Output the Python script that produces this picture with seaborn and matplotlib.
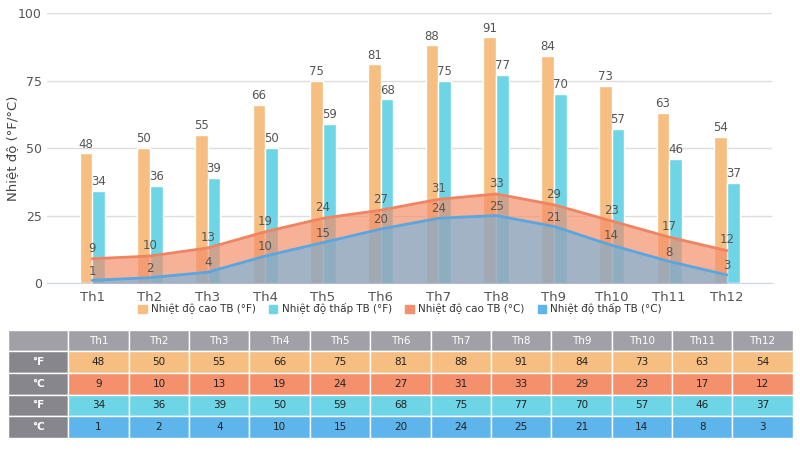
import numpy as np
import pandas as pd
import matplotlib.pyplot as plt
import seaborn as sns
from matplotlib.patches import Patch

months = ['Th1', 'Th2', 'Th3', 'Th4', 'Th5', 'Th6', 'Th7', 'Th8', 'Th9', 'Th10', 'Th11', 'Th12']
high_f = [48, 50, 55, 66, 75, 81, 88, 91, 84, 73, 63, 54]
low_f = [34, 36, 39, 50, 59, 68, 75, 77, 70, 57, 46, 37]
high_c = [9, 10, 13, 19, 24, 27, 31, 33, 29, 23, 17, 12]
low_c = [1, 2, 4, 10, 15, 20, 24, 25, 21, 14, 8, 3]

names = ['Nhiệt độ cao TB (°F)', 'Nhiệt độ thấp TB (°F)', 'Nhiệt độ cao TB (°C)', 'Nhiệt độ thấp TB (°C)']
colors = ['#F7BE81', '#6DD5E5', '#F4906B', '#5DB5EB']

sns.set_style('white')
plt.rcParams['font.family'] = ['DejaVu Sans']

fig = plt.figure(figsize=(8, 4.5), dpi=100)
ax = fig.add_axes([0.059, 0.371, 0.906, 0.6])

# bars for Fahrenheit
bars = pd.DataFrame({
    'month': months * 2,
    'val': high_f + low_f,
    'series': [names[0]] * 12 + [names[1]] * 12,
})
sns.barplot(data=bars, x='month', y='val', hue='series', palette=colors[:2],
            width=0.44, saturation=1, legend=False, ax=ax, zorder=2)
for cont in ax.containers:
    ax.bar_label(cont, padding=2, color='#555555', fontsize=8.5)

# areas for Celsius
x = np.arange(len(months))
ax.fill_between(x, high_c, color=colors[2], alpha=0.7, lw=0, zorder=3)
ax.plot(x, high_c, color='#F08462', lw=2, zorder=4)
ax.fill_between(x, low_c, color=colors[3], alpha=0.55, lw=0, zorder=3)
ax.plot(x, low_c, color='#5AA6E0', lw=2, zorder=4)
for xi, v in zip(x, high_c):
    ax.annotate(str(v), (xi, v), xytext=(0, 3), textcoords='offset points',
                ha='center', va='bottom', color='#555555', fontsize=8.5, zorder=5)
for xi, v in zip(x, low_c):
    ax.annotate(str(v), (xi, v), xytext=(0, 2), textcoords='offset points',
                ha='center', va='bottom', color='#555555', fontsize=8.5, zorder=5)

ax.set_xlim(-0.78, 11.78)
ax.set_ylim(0, 100)
ax.set_yticks([0, 25, 50, 75, 100])
ax.yaxis.grid(True, color='#DDDDDD', lw=1)
ax.set_axisbelow(True)
ax.set_xlabel('')
ax.set_ylabel('Nhiệt độ (°F/°C)', fontsize=9.5, color='#444444')
ax.yaxis.set_label_coords(-0.039, 0.5)
for s in ['left', 'right', 'top']:
    ax.spines[s].set_visible(False)
ax.spines['bottom'].set_color('#CCD6EB')
ax.tick_params(axis='both', colors='#555555', labelsize=9.5, length=0)
ax.tick_params(axis='x', length=4, pad=2, color='#CCD6EB')
ax.tick_params(axis='y', pad=4, labelsize=9)

handles = [Patch(color=c) for c in colors]
fig.legend(handles, names, loc='center', bbox_to_anchor=(0.5, 0.314), ncol=4,
           frameon=False, fontsize=7.5, handlelength=0.8, handleheight=0.8,
           columnspacing=1.3, handletextpad=0.4, labelcolor='#333333',
           borderpad=0, borderaxespad=0)

# table below
tax = fig.add_axes([0.01, 0.027, 0.981, 0.24])
tax.axis('off')
row_labels = ['°F', '°C', '°F', '°C']
cells = [[''] + months]
for lab, vals in zip(row_labels, [high_f, high_c, low_f, low_c]):
    cells.append([lab] + [str(v) for v in vals])
tbl = tax.table(cellText=cells, bbox=[0, 0, 1, 1], cellLoc='center')
tbl.auto_set_font_size(False)
row_colors = ['#F7BE81', '#F4906B', '#6DD5E5', '#5DB5EB']
for (r, c), cell in tbl.get_celld().items():
    cell.set_edgecolor('white')
    cell.set_linewidth(1)
    cell.set_fontsize(7.5)
    if r == 0:
        cell.set_facecolor('#A0A0A6')
        cell.get_text().set_color('white')
    elif c == 0:
        cell.set_facecolor('#86868C')
        cell.get_text().set_color('white')
        cell.get_text().set_fontweight('bold')
    else:
        cell.set_facecolor(row_colors[r - 1])
        cell.get_text().set_color('#222222')

fig.savefig('out.png', dpi=100)
